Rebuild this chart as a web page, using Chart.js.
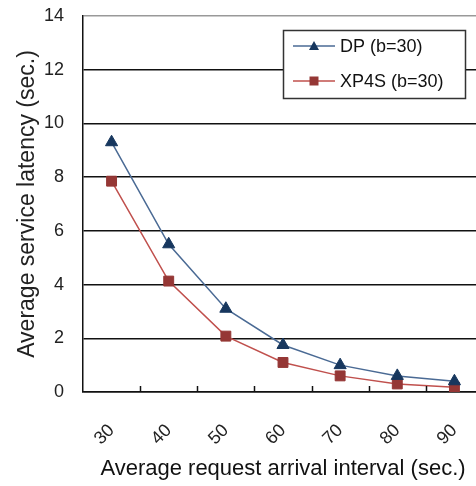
<!DOCTYPE html>
<html>
<head>
<meta charset="utf-8">
<script src="https://cdn.jsdelivr.net/npm/chart.js@4/dist/chart.umd.min.js"></script>
<style>
  html, body { margin: 0; padding: 0; background: #fff; overflow: hidden; }
  #wrap { width: 476px; height: 486px; overflow: hidden; }
</style>
</head>
<body>
<div id="wrap"><canvas id="chart" width="491" height="486"></canvas></div>
<script>
'use strict';

const intervals = ['30', '40', '50', '60', '70', '80', '90'];
const dpLatency = [9.3, 5.5, 3.1, 1.75, 1.0, 0.6, 0.4];
const xp4sLatency = [7.85, 4.13, 2.08, 1.1, 0.6, 0.3, 0.18];
const seriesNames = ['DP (b=30)', 'XP4S (b=30)'];

const FONT = "'Liberation Sans', Arial, sans-serif";

// small tick marks pointing up into the plot, between the categories
const innerTicks = {
    id: 'innerTicks',
    afterDraw(chart) {
        const x = chart.scales.x;
        const ctx = chart.ctx;
        const bottom = chart.chartArea.bottom;
        ctx.save();
        ctx.strokeStyle = '#111';
        ctx.lineWidth = 1.5;
        for (let i = 0; i < intervals.length - 1; i++) {
            const px = Math.round((x.getPixelForValue(i) + x.getPixelForValue(i + 1)) / 2) + 0.5;
            ctx.beginPath();
            ctx.moveTo(px, bottom);
            ctx.lineTo(px, bottom - 6);
            ctx.stroke();
        }
        ctx.restore();
    }
};

// boxed legend in the upper right of the plot
const boxLegend = {
    id: 'boxLegend',
    afterDraw(chart) {
        const ctx = chart.ctx;
        const bx = 283, by = 30, bw = 182, bh = 68;
        ctx.save();
        ctx.fillStyle = '#fff';
        ctx.fillRect(bx, by, bw, bh);
        ctx.strokeStyle = '#333';
        ctx.lineWidth = 1.5;
        ctx.strokeRect(bx + 0.5, by + 0.5, bw, bh);
        ctx.font = '18px ' + FONT;
        ctx.textBaseline = 'middle';
        chart.data.datasets.forEach((ds, i) => {
            const y = by + 16 + i * 35;
            ctx.strokeStyle = ds.borderColor;
            ctx.lineWidth = 1.5;
            ctx.beginPath();
            ctx.moveTo(293, y);
            ctx.lineTo(335, y);
            ctx.stroke();
            ctx.fillStyle = ds.pointBackgroundColor;
            ctx.beginPath();
            if (ds.pointStyle === 'triangle') {
                ctx.moveTo(314, y - 5);
                ctx.lineTo(319, y + 4);
                ctx.lineTo(309, y + 4);
                ctx.closePath();
            } else {
                ctx.rect(309.5, y - 4.5, 9, 9);
            }
            ctx.fill();
            ctx.fillStyle = '#111';
            ctx.fillText(ds.label, 340, y + 1);
        });
        ctx.restore();
    }
};

new Chart(document.getElementById('chart'), {
    type: 'line',
    data: {
        labels: intervals,
        datasets: [{
            label: seriesNames[0],
            data: dpLatency,
            borderColor: '#4A6A94',
            borderWidth: 1.5,
            pointStyle: 'triangle',
            pointRadius: 7,
            pointBackgroundColor: '#17375E',
            pointBorderColor: '#17375E',
            pointBorderWidth: 1,
            tension: 0
        }, {
            label: seriesNames[1],
            data: xp4sLatency,
            borderColor: '#C0504D',
            borderWidth: 1.5,
            pointStyle: 'rect',
            pointRadius: 7,
            pointBackgroundColor: '#953735',
            pointBorderColor: '#953735',
            pointBorderWidth: 1,
            tension: 0
        }]
    },
    options: {
        responsive: false,
        animation: false,
        layout: { padding: { top: 16, right: 0, left: 0, bottom: 0 } },
        plugins: {
            legend: { display: false },
            tooltip: { enabled: false }
        },
        scales: {
            x: {
                offset: true,
                grid: { display: false, drawTicks: false },
                border: { display: true, color: '#111', width: 1.5 },
                ticks: {
                    minRotation: 45,
                    maxRotation: 45,
                    padding: 28,
                    color: '#222',
                    font: { family: FONT, size: 18 }
                },
                title: {
                    display: true,
                    text: 'Average request arrival interval (sec.)',
                    color: '#111',
                    font: { family: FONT, size: 22 },
                    padding: { top: 0, bottom: 4 }
                },
                afterFit(scale) {
                    scale.height = 94;
                    scale.paddingLeft = 0;
                    scale.paddingRight = 0;
                }
            },
            y: {
                min: 0,
                max: 14,
                ticks: {
                    stepSize: 2,
                    padding: 19,
                    color: '#222',
                    font: { family: FONT, size: 18 }
                },
                grid: {
                    drawTicks: false,
                    color: (c) => c.tick && c.tick.value === 14 ? '#999' : '#111',
                    lineWidth: 1.5
                },
                border: { display: true, color: '#111', width: 1.5 },
                title: {
                    display: true,
                    text: 'Average service latency (sec.)',
                    color: '#222',
                    font: { family: FONT, size: 23 },
                    padding: { top: 14, bottom: 4 }
                },
                afterFit(scale) {
                    scale.width = 83;
                    scale.paddingTop = 0;
                    scale.paddingBottom = 0;
                }
            }
        }
    },
    plugins: [innerTicks, boxLegend]
});
</script>
</body>
</html>
